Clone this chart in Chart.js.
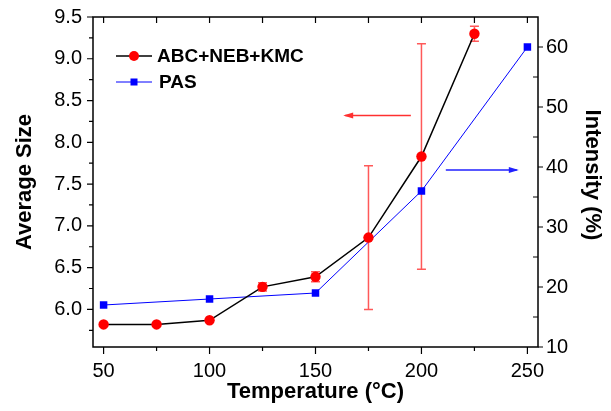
<!DOCTYPE html>
<html>
<head>
<meta charset="utf-8">
<script src="https://cdn.jsdelivr.net/npm/chart.js@4.4.1/dist/chart.umd.min.js"></script>
<style>
  html, body { margin: 0; padding: 0; background: #ffffff; }
  #wrap { width: 611px; height: 411px; }
</style>
</head>
<body>
<div id="wrap"><canvas id="c" width="611" height="411"></canvas></div>
<script>
// ---- data ----
const temps = [50, 75, 100, 125, 150, 175, 200, 225];
const avgSize = [5.82, 5.82, 5.87, 6.27, 6.39, 6.86, 7.83, 9.30];
const avgSizeErr = [0, 0, 0, 0.05, 0.06, 0.86, 1.35, 0.09];
const pasTemps = [50, 100, 150, 200, 250];
const pasIntensity = [17, 18, 19, 36, 60];

const xMajorTicks = [50, 100, 150, 200, 250];
const xMinorTicks = [75, 125, 175, 225];
const leftMajorTicks = [6.0, 6.5, 7.0, 7.5, 8.0, 8.5, 9.0, 9.5];
const leftMinorTicks = [5.75, 6.25, 6.75, 7.25, 7.75, 8.25, 8.75, 9.25];
const rightMajorTicks = [10, 20, 30, 40, 50, 60];
const rightMinorTicks = [15, 25, 35, 45, 55];

const seriesNames = ['ABC+NEB+KMC', 'PAS'];
const rightTitle = 'Intensity (%)';
// arrows: [xStart, xEnd, yValue] in data units
const redArrow = [195, 164, 8.32];
const blueArrow = [211.5, 245, 39.5];

const FONT = "'Liberation Sans', Arial, sans-serif";

function noPad(s) { s.paddingTop = 0; s.paddingBottom = 0; s.paddingLeft = 0; s.paddingRight = 0; }

const decorPlugin = {
  id: 'decor',
  beforeDatasetsDraw(chart) {
    const ctx = chart.ctx;
    const x = chart.scales.x, yL = chart.scales.yL;
    ctx.save();
    ctx.strokeStyle = 'rgba(255,60,60,0.85)';
    ctx.lineWidth = 1.5;
    temps.forEach((t, i) => {
      const e = avgSizeErr[i];
      if (!e) return;
      const px = x.getPixelForValue(t);
      const y1 = yL.getPixelForValue(avgSize[i] + e);
      const y2 = yL.getPixelForValue(avgSize[i] - e);
      ctx.beginPath();
      ctx.moveTo(px, y1); ctx.lineTo(px, y2);
      ctx.moveTo(px - 4.5, y1); ctx.lineTo(px + 4.5, y1);
      ctx.moveTo(px - 4.5, y2); ctx.lineTo(px + 4.5, y2);
      ctx.stroke();
    });
    ctx.restore();
  },
  afterDraw(chart) {
    const ctx = chart.ctx;
    const a = chart.chartArea;
    const x = chart.scales.x, yL = chart.scales.yL, yR = chart.scales.yR;
    ctx.save();
    // frame
    ctx.strokeStyle = '#000';
    ctx.lineWidth = 1.5;
    ctx.strokeRect(a.left, a.top, a.right - a.left, a.bottom - a.top);
    ctx.lineWidth = 1.2;
    ctx.beginPath();
    xMajorTicks.forEach(v => { const p = x.getPixelForValue(v); ctx.moveTo(p, a.bottom); ctx.lineTo(p, a.bottom + 7); });
    xMinorTicks.forEach(v => { const p = x.getPixelForValue(v); ctx.moveTo(p, a.bottom); ctx.lineTo(p, a.bottom + 4); });
    xMajorTicks.concat(xMinorTicks).forEach(v => { const p = x.getPixelForValue(v); ctx.moveTo(p, a.top); ctx.lineTo(p, a.top + 6); });
    leftMajorTicks.forEach(v => { const p = yL.getPixelForValue(v); ctx.moveTo(a.left, p); ctx.lineTo(a.left - 6, p); });
    leftMinorTicks.forEach(v => { const p = yL.getPixelForValue(v); ctx.moveTo(a.left, p); ctx.lineTo(a.left - 4, p); });
    rightMajorTicks.forEach(v => { const p = yR.getPixelForValue(v); ctx.moveTo(a.right, p); ctx.lineTo(a.right + 5, p); });
    rightMinorTicks.forEach(v => { const p = yR.getPixelForValue(v); ctx.moveTo(a.right, p); ctx.lineTo(a.right - 5, p); });
    ctx.stroke();

    // arrows
    function arrow(x1, x2, y, color) {
      ctx.strokeStyle = color; ctx.fillStyle = color; ctx.lineWidth = 1.5;
      ctx.beginPath(); ctx.moveTo(x1, y); ctx.lineTo(x2, y); ctx.stroke();
      const dir = x2 > x1 ? 1 : -1;
      ctx.beginPath();
      ctx.moveTo(x2 + dir * 2, y);
      ctx.lineTo(x2 - dir * 8, y - 3);
      ctx.lineTo(x2 - dir * 8, y + 3);
      ctx.closePath(); ctx.fill();
    }
    arrow(x.getPixelForValue(redArrow[0]), x.getPixelForValue(redArrow[1]), yL.getPixelForValue(redArrow[2]), '#ff3030');
    arrow(x.getPixelForValue(blueArrow[0]), x.getPixelForValue(blueArrow[1]), yR.getPixelForValue(blueArrow[2]), '#2020ff');

    // legend
    const lx = a.left + 23, lw = 36;
    const ly1 = a.top + 39, ly2 = a.top + 65;
    ctx.lineWidth = 1.5; ctx.strokeStyle = '#000';
    ctx.beginPath(); ctx.moveTo(lx, ly1); ctx.lineTo(lx + lw, ly1); ctx.stroke();
    ctx.fillStyle = '#ff0000';
    ctx.beginPath(); ctx.arc(lx + lw / 2, ly1, 5, 0, Math.PI * 2); ctx.fill();
    ctx.lineWidth = 1; ctx.strokeStyle = '#0000ff';
    ctx.beginPath(); ctx.moveTo(lx, ly2); ctx.lineTo(lx + lw, ly2); ctx.stroke();
    ctx.fillStyle = '#0000ff';
    ctx.fillRect(lx + lw / 2 - 3.5, ly2 - 3.5, 7, 7);
    ctx.fillStyle = '#000';
    ctx.font = 'bold 19px ' + FONT;
    ctx.textBaseline = 'middle';
    ctx.textAlign = 'left';
    ctx.fillText(seriesNames[0], lx + lw + 5, ly1 + 1);
    ctx.fillText(seriesNames[1], lx + lw + 7, ly2 + 1);

    // right axis title (rotated, reads top to bottom)
    ctx.save();
    ctx.translate(a.right + 54, (a.top + a.bottom) / 2 - 7);
    ctx.rotate(Math.PI / 2);
    ctx.font = 'bold 22px ' + FONT;
    ctx.textAlign = 'center';
    ctx.textBaseline = 'middle';
    ctx.fillText(rightTitle, 0, 0);
    ctx.restore();
    ctx.restore();
  }
};

new Chart(document.getElementById('c'), {
  type: 'line',
  data: {
    datasets: [
      {
        label: seriesNames[0],
        data: temps.map((t, i) => ({ x: t, y: avgSize[i] })),
        yAxisID: 'yL',
        borderColor: '#000000',
        borderWidth: 1.5,
        pointStyle: 'circle',
        pointRadius: 5.2,
        pointBackgroundColor: '#ff0000',
        pointBorderColor: '#ff0000',
        pointBorderWidth: 0,
        tension: 0
      },
      {
        label: seriesNames[1],
        data: pasTemps.map((t, i) => ({ x: t, y: pasIntensity[i] })),
        yAxisID: 'yR',
        borderColor: '#0000ff',
        borderWidth: 1,
        pointStyle: 'rect',
        pointRadius: 5.3,
        pointBackgroundColor: '#0000ff',
        pointBorderColor: '#0000ff',
        pointBorderWidth: 0,
        tension: 0
      }
    ]
  },
  options: {
    responsive: false,
    animation: false,
    devicePixelRatio: 1,
    layout: { padding: { top: 17, left: 0, right: 0, bottom: 0 } },
    plugins: { legend: { display: false }, tooltip: { enabled: false } },
    scales: {
      x: {
        type: 'linear', position: 'bottom', min: 45, max: 255,
        afterBuildTicks: s => { s.ticks = xMajorTicks.map(v => ({ value: v })); },
        afterFit: s => { s.height = 64; noPad(s); },
        grid: { display: false, drawTicks: false },
        border: { display: false },
        ticks: { color: '#000', padding: 12, maxRotation: 0, font: { family: FONT, size: 20 } },
        title: { display: true, text: 'Temperature (°C)', color: '#000', padding: { top: 6, bottom: 6 }, font: { family: FONT, size: 22, weight: 'bold' } }
      },
      yL: {
        type: 'linear', position: 'left', min: 5.55, max: 9.5,
        afterBuildTicks: s => { s.ticks = leftMajorTicks.map(v => ({ value: v })); },
        afterFit: s => { s.width = 93; noPad(s); },
        grid: { display: false, drawTicks: false },
        border: { display: false },
        ticks: { color: '#000', padding: 11, font: { family: FONT, size: 20 }, callback: v => v.toFixed(1) },
        title: { display: true, text: 'Average Size', color: '#000', padding: { top: 12, bottom: 12 }, font: { family: FONT, size: 22, weight: 'bold' } }
      },
      yR: {
        type: 'linear', position: 'right', min: 10, max: 65,
        afterBuildTicks: s => { s.ticks = rightMajorTicks.map(v => ({ value: v })); },
        afterFit: s => { s.width = 73; noPad(s); },
        grid: { display: false, drawTicks: false },
        border: { display: false },
        ticks: { color: '#000', padding: 8, font: { family: FONT, size: 20 } },
        title: { display: false }
      }
    }
  },
  plugins: [decorPlugin]
});
</script>
</body>
</html>
